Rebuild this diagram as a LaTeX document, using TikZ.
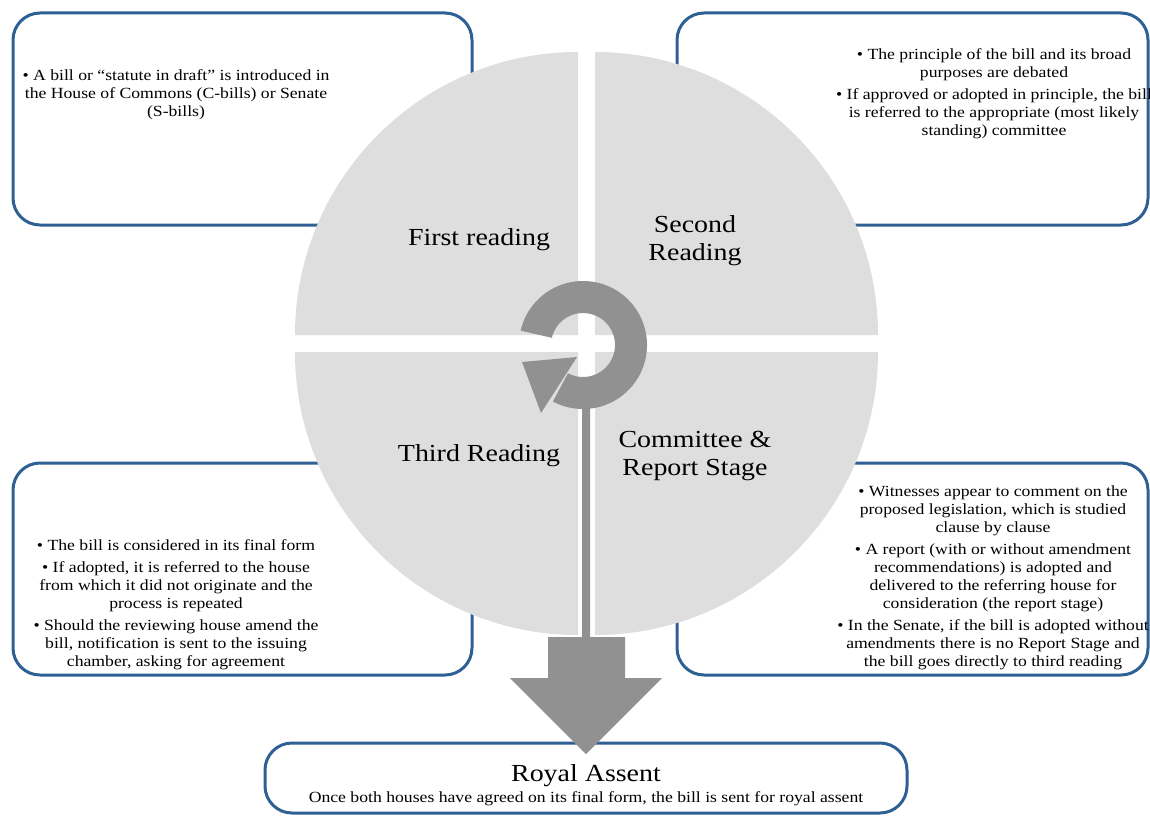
\documentclass[tikz,border=0pt]{standalone}
\usepackage{fontspec}
\setmainfont{Liberation Serif}[FakeStretch=1.14]
\definecolor{boxblue}{RGB}{46,96,148}
\definecolor{quadgray}{RGB}{222,222,222}
\definecolor{arrowgray}{RGB}{145,145,145}
\begin{document}
\begin{tikzpicture}[x=1pt,y=1pt,yscale=-1,
  infobox/.style={draw=boxblue, line width=3pt, rounded corners=27pt, fill=white},
  quad/.style={fill=quadgray},
  cyc/.style={fill=arrowgray},
  body/.style={align=center, font=\fontsize{15.5}{18}\selectfont, inner sep=0pt},
  stage/.style={align=center, font=\fontsize{24.5}{28}\selectfont, inner sep=0pt}]
\useasboundingbox (0,0) rectangle (1150,816);
\clip (0,0) rectangle (1150,816);

% description panels
\draw[infobox] (13,13) rectangle (472,225);
\draw[infobox] (677,13) rectangle (1148,225);
\draw[infobox] (13,463) rectangle (472,675);
\draw[infobox] (677,463) rectangle (1148,675);
\draw[infobox] (265,743) rectangle (907,813);

% the four stage quadrants
\fill[quad] (578,335) -- (295,335) arc[start angle=180, end angle=270, radius=283] -- cycle;
\fill[quad] (595,335) -- (595,52) arc[start angle=270, end angle=360, radius=283] -- cycle;
\fill[quad] (595,352) -- (878,352) arc[start angle=0, end angle=90, radius=283] -- cycle;
\fill[quad] (578,352) -- (578,635) arc[start angle=90, end angle=180, radius=283] -- cycle;

% downward arrow to royal assent
\fill[cyc] (582,400) -- (590,400) -- (590,637) -- (625,637) -- (625,678) -- (662,678)
  -- (586,754) -- (510,678) -- (548,678) -- (548,637) -- (582,637) -- cycle;

% circular arrow in the centre
\coordinate (hub) at (583,345);
\fill[cyc] (hub) ++(193:64) arc[start angle=193, end angle=478, radius=64]
  -- ++(298:32) arc[start angle=478, end angle=193, radius=32] -- cycle;
\fill[cyc] (522,362) -- (577,357) -- (541,413) -- cycle;

% stage names
\node[stage] (s1) at (479,240) {First reading};
\node[stage] (s2) at (695,241) {Second\\Reading};
\node[stage] (s3) at (479,456) {Third Reading};
\node[stage] (s4) at (695,456) {Committee \&\\Report Stage};

% panel texts
\node[body] (t1) at (176,95) {• A bill or “statute in draft” is introduced in\\the House of Commons (C-bills) or Senate\\(S-bills)};
\node[body] (t2) at (994,94) {• The principle of the bill and its broad\\purposes are debated\\[4pt]• If approved or adopted in principle, the bill\\is referred to the appropriate (most likely\\standing) committee};
\node[body] (t3) at (176,605) {• The bill is considered in its final form\\[4pt]• If adopted, it is referred to the house\\from which it did not originate and the\\process is repeated\\[4pt]• Should the reviewing house amend the\\bill, notification is sent to the issuing\\chamber, asking for agreement};
\node[body] (t4) at (993,578) {• Witnesses appear to comment on the\\proposed legislation, which is studied\\clause by clause\\[4pt]• A report (with or without amendment\\recommendations) is adopted and\\delivered to the referring house for\\consideration (the report stage)\\[4pt]• In the Senate, if the bill is adopted without\\amendments there is no Report Stage and\\the bill goes directly to third reading};

% royal assent
\node[stage] (ra) at (586,776) {Royal Assent};
\node[body] (rs) at (586,799) {Once both houses have agreed on its final form, the bill is sent for royal assent};
\end{tikzpicture}
\end{document}
